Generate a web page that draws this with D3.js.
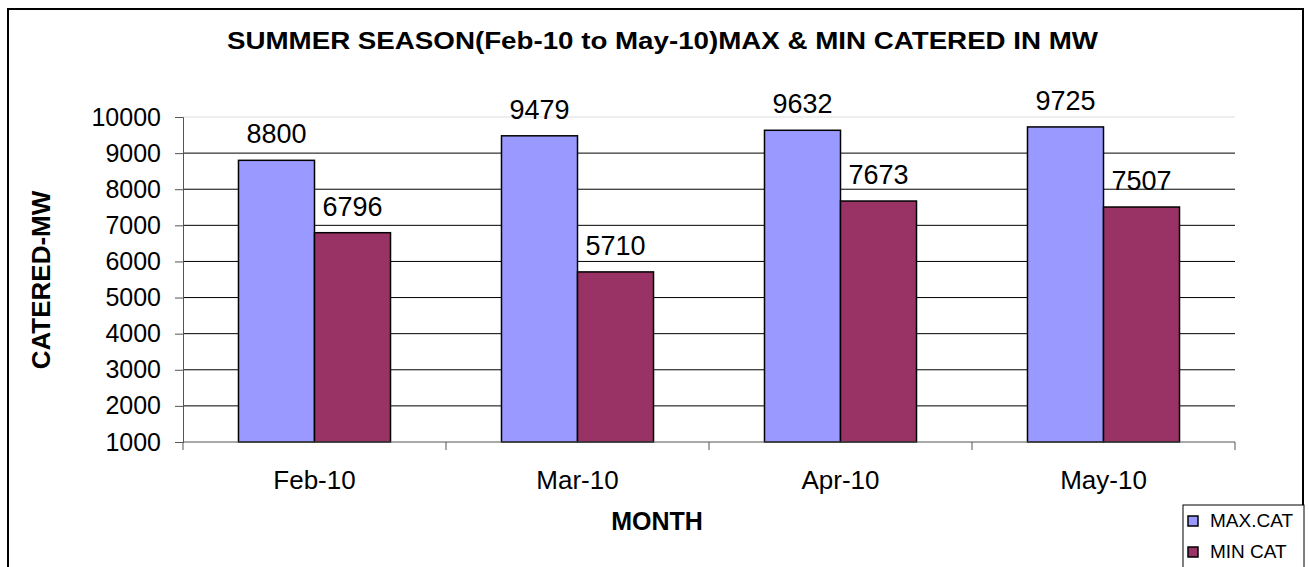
<!DOCTYPE html>
<html>
<head>
<meta charset="utf-8">
<script src="https://cdn.jsdelivr.net/npm/d3@7"></script>
<style>
  body { margin: 0; background: #fff; }
  svg { display: block; font-family: 'Liberation Sans', Arial, sans-serif; }
</style>
</head>
<body>
<svg id="chart"></svg>
<script>
// data
const months = ['Feb-10', 'Mar-10', 'Apr-10', 'May-10']
const seriesNames = ['MAX.CAT', 'MIN CAT']
const maxCat = [8800, 9479, 9632, 9725]
const minCat = [6796, 5710, 7673, 7507]
const yTicks = [1000, 2000, 3000, 4000, 5000, 6000, 7000, 8000, 9000, 10000]
const colors = ['#9999ff', '#993366']

const width = 1309
const height = 567
const plot = { left: 183, right: 1235, top: 117, bottom: 442 }

var svg = d3.select('#chart')
  .attr('width', width)
  .attr('height', height)

// outer frame (bottom runs off the picture)
svg.append('rect')
  .attr('x', 8)
  .attr('y', 9)
  .attr('width', 1295)
  .attr('height', 620)
  .style('fill', 'none')
  .style('stroke', '#000')
  .style('stroke-width', 2)

var x = d3.scaleBand()
  .domain(months)
  .range([plot.left, plot.right])

var x1 = d3.scaleBand()
  .domain(seriesNames)
  .range([0, x.bandwidth()])
  .paddingOuter(0.73)

var y = d3.scaleLinear()
  .domain([1000, 10000])
  .range([plot.bottom, plot.top])

// gridlines
svg.append('g')
  .selectAll('line')
  .data(yTicks.slice(1))
  .enter()
  .append('line')
  .attr('x1', plot.left)
  .attr('x2', plot.right)
  .attr('y1', (d) => y(d))
  .attr('y2', (d) => y(d))
  .style('stroke', (d) => d === 10000 ? '#dddddd' : '#000')
  .style('stroke-width', 1)

// bars
var rows = months.map((m, i) => ({ month: m, values: [maxCat[i], minCat[i]] }))

var groups = svg.append('g')
  .selectAll('g')
  .data(rows)
  .enter()
  .append('g')
  .attr('transform', (d) => 'translate(' + x(d.month) + ',0)')

groups.selectAll('rect')
  .data((d) => d.values.map((v, i) => ({ name: seriesNames[i], value: v, idx: i })))
  .enter()
  .append('rect')
  .attr('x', (d) => x1(d.name))
  .attr('y', (d) => y(d.value))
  .attr('width', x1.bandwidth())
  .attr('height', (d) => y(1000) - y(d.value))
  .style('fill', (d) => colors[d.idx])
  .style('stroke', '#000')
  .style('stroke-width', 1.5)

groups.selectAll('text')
  .data((d) => d.values.map((v, i) => ({ name: seriesNames[i], value: v })))
  .enter()
  .append('text')
  .attr('x', (d) => x1(d.name) + x1.bandwidth() / 2)
  .attr('y', (d) => y(d.value) - 17)
  .style('text-anchor', 'middle')
  .style('font-size', '27px')
  .style('fill', '#000')
  .text((d) => d.value)

// y axis
var yAxis = d3.axisLeft(y)
  .tickValues(yTicks)
  .tickSize(8)
  .tickPadding(14)
  .tickFormat(d3.format('d'))

var yG = svg.append('g')
  .attr('transform', 'translate(' + plot.left + ',0)')
  .call(yAxis)
yG.select('.domain').style('stroke', '#555')
yG.selectAll('.tick line').style('stroke', '#555')
yG.selectAll('.tick text')
  .style('font-size', '25px')
  .style('font-family', "'Liberation Sans', Arial, sans-serif")
  .style('fill', '#000')

// x axis: ticks sit between the categories
svg.append('line')
  .attr('x1', plot.left)
  .attr('x2', plot.right)
  .attr('y1', plot.bottom)
  .attr('y2', plot.bottom)
  .style('stroke', '#555')

var edges = months.map((m) => x(m)).concat([x(months[months.length - 1]) + x.bandwidth()])
svg.append('g')
  .selectAll('line')
  .data(edges)
  .enter()
  .append('line')
  .attr('x1', (d) => d)
  .attr('x2', (d) => d)
  .attr('y1', plot.bottom)
  .attr('y2', plot.bottom + 8)
  .style('stroke', '#555')

svg.append('g')
  .selectAll('text')
  .data(months)
  .enter()
  .append('text')
  .attr('x', (d) => x(d) + x.bandwidth() / 2)
  .attr('y', 489)
  .style('text-anchor', 'middle')
  .style('font-size', '26px')
  .text((d) => d)

// titles
svg.append('text')
  .attr('x', 227)
  .attr('y', 49)
  .attr('textLength', 871)
  .attr('lengthAdjust', 'spacingAndGlyphs')
  .style('font-size', '23px')
  .style('font-weight', 'bold')
  .text('SUMMER SEASON(Feb-10 to May-10)MAX & MIN CATERED IN MW')

svg.append('text')
  .attr('transform', 'translate(50,280) rotate(-90)')
  .style('text-anchor', 'middle')
  .style('font-size', '26px')
  .style('font-weight', 'bold')
  .text('CATERED-MW')

svg.append('text')
  .attr('x', 657)
  .attr('y', 530)
  .style('text-anchor', 'middle')
  .style('font-size', '25px')
  .style('font-weight', 'bold')
  .text('MONTH')

// legend
svg.append('rect')
  .attr('x', 1183)
  .attr('y', 505)
  .attr('width', 121)
  .attr('height', 80)
  .style('fill', '#fff')
  .style('stroke', '#000')
  .style('stroke-width', 1)

seriesNames.forEach((name, i) => {
  var item = svg.append('g')
    .attr('transform', 'translate(1188,' + (516 + i * 31) + ')')
  item.append('rect')
    .attr('width', 10)
    .attr('height', 10)
    .style('fill', colors[i])
    .style('stroke', '#000')
    .style('stroke-width', 1.5)
  item.append('text')
    .attr('x', 22)
    .attr('y', 11)
    .style('font-size', '19px')
    .text(name)
})
</script>
</body>
</html>
